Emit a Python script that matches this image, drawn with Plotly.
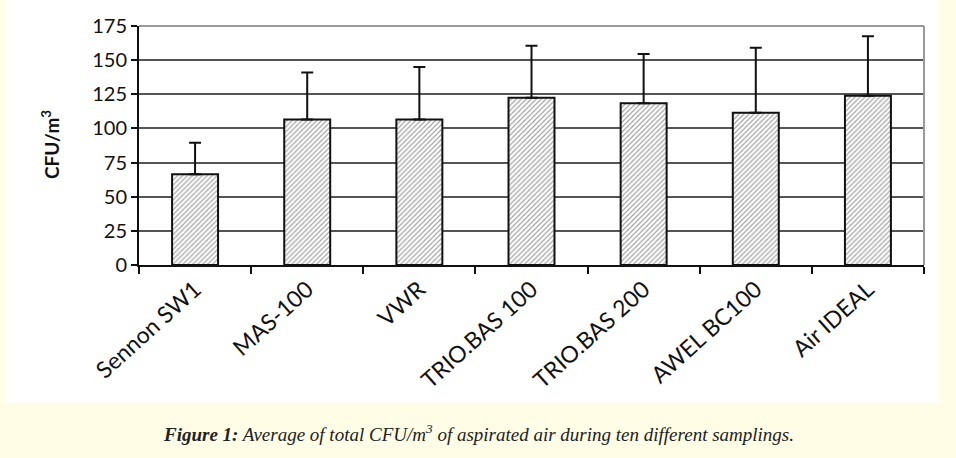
import plotly.graph_objects as go

categories = ["Sennon SW1", "MAS-100", "VWR", "TRIO.BAS 100", "TRIO.BAS 200", "AWEL BC100", "Air IDEAL"]
means = [66.5, 106.5, 106.5, 122.5, 118.5, 111.5, 124]
err_plus = [23, 34.5, 38.5, 38, 36, 47.5, 43.5]
y_ticks = [0, 25, 50, 75, 100, 125, 150, 175]

W, H = 956, 458
L, R, T, B = 139, 924, 26, 265  # plot area pixel box
pw, ph = R - L, B - T

def px_x(x):
    return (x - L) / pw

def px_y(y):
    return (B - y) / ph

fig = go.Figure()
fig.add_trace(go.Bar(
    x=categories, y=means,
    marker=dict(color="white",
                line=dict(color="#111", width=2),
                pattern=dict(shape="/", fgcolor="#444", bgcolor="white", size=3.5, solidity=0.35)),
    error_y=dict(type="data", array=err_plus, arrayminus=[0] * len(err_plus), symmetric=False,
                 color="#111", thickness=2, width=6),
    width=0.41,
))

fig.update_layout(
    width=W, height=H,
    margin=dict(l=L, r=W - R, t=T, b=H - B),
    paper_bgcolor="#FFFDE6",
    plot_bgcolor="white",
    showlegend=False,
    font=dict(family="Lato", size=19, color="#111"),
    xaxis=dict(
        type="category", tickangle=-42, tickson="boundaries",
        ticks="outside", ticklen=7, tickwidth=2, tickcolor="#111",
        showline=True, linecolor="#111", linewidth=2,
        showgrid=False, tickfont=dict(family="Lato", size=23, color="#111"),
        range=[-0.5, 6.5],
    ),
    yaxis=dict(
        range=[0, 175], tickvals=y_ticks,
        ticks="outside", ticklen=6, tickwidth=2, tickcolor="#111",
        showline=True, linecolor="#111", linewidth=2,
        showgrid=True, gridcolor="#555", gridwidth=1.5,
        zeroline=False,
        tickfont=dict(family="Lato", size=20, color="#111"),
    ),
    shapes=[
        dict(type="rect", xref="paper", yref="paper", layer="below",
             x0=px_x(6), x1=px_x(938), y0=px_y(403), y1=px_y(0),
             fillcolor="white", line=dict(width=0)),
        dict(type="line", xref="paper", yref="paper", x0=0, x1=1, y0=1, y1=1,
             line=dict(color="#999", width=2)),
        dict(type="line", xref="paper", yref="paper", x0=1, x1=1, y0=0, y1=1,
             line=dict(color="#999", width=2)),
    ],
    annotations=[
        dict(text="<b>CFU/m<sup>3</sup></b>", xref="paper", yref="paper",
             x=px_x(50), y=px_y(145), textangle=-90, showarrow=False,
             xanchor="center", yanchor="middle",
             font=dict(family="Lato", size=19, color="#111")),
        dict(text="<b><i>Figure 1:</i></b><i> Average of total CFU/m<sup>3</sup> of aspirated air during ten different samplings.</i>",
             xref="paper", yref="paper", x=px_x(478), y=px_y(433), showarrow=False,
             xanchor="center", yanchor="middle",
             font=dict(family="Liberation Serif", size=19, color="#222")),
    ],
)

fig.write_html("out.html")
